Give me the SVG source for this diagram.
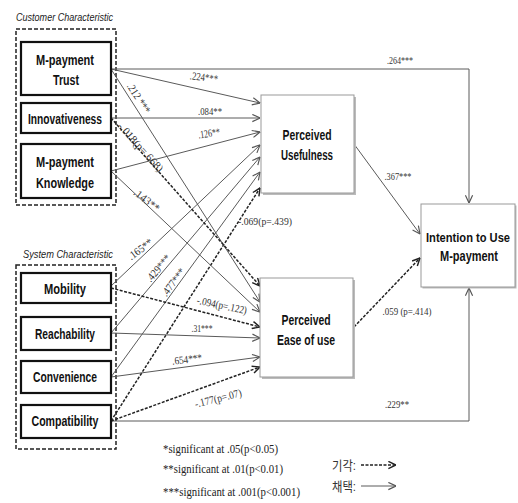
<svg xmlns="http://www.w3.org/2000/svg" width="518" height="503" viewBox="0 0 518 503">
<defs>
<marker id="arr" viewBox="0 0 10 10" refX="9.5" refY="5" markerWidth="9" markerHeight="9" markerUnits="userSpaceOnUse" orient="auto">
<path d="M1,1 L9.5,5 L1,9" fill="none" stroke="#555" stroke-width="1.3"/>
</marker>
<marker id="arrd" viewBox="0 0 10 10" refX="9.5" refY="5" markerWidth="9" markerHeight="9" markerUnits="userSpaceOnUse" orient="auto">
<path d="M1,1 L9.5,5 L1,9" fill="none" stroke="#222" stroke-width="1.6"/>
</marker>
</defs>
<style>
.grp{fill:none;stroke:#222;stroke-width:1.5;stroke-dasharray:4,2}
.cat{font-family:"Liberation Sans",Arial,sans-serif;font-style:italic;font-size:11px;fill:#222}
.box{fill:#fff;stroke:#111;stroke-width:2.2}
.cbox{fill:#fff;stroke:#999;stroke-width:1}
.shadow{fill:#bbb}
.nt{font-family:"Liberation Sans",Arial,sans-serif;font-weight:bold;font-size:14px;fill:#111;text-anchor:middle}
.s{fill:none;stroke:#5a5a5a;stroke-width:1;marker-end:url(#arr)}
.d{fill:none;stroke:#222;stroke-width:1.5;stroke-dasharray:3,1.5;marker-end:url(#arrd)}
.lb{font-family:"Liberation Serif","Times New Roman",serif;font-size:11px;fill:#333;text-anchor:middle}
.lg{font-family:"Liberation Serif","Times New Roman",serif;font-size:12px;fill:#222}
.kr{font-family:"Liberation Sans","Noto Sans CJK KR",sans-serif;font-size:13px;fill:#333}
</style>

<text class="cat" x="16" y="21" textLength="97" lengthAdjust="spacingAndGlyphs">Customer Characteristic</text>
<rect class="grp" x="16" y="29" width="100" height="176"/>
<text class="cat" x="23" y="258" textLength="90" lengthAdjust="spacingAndGlyphs">System Characteristic</text>
<rect class="grp" x="16" y="265" width="100" height="184"/>

<g id="connectors">
<path class="s" d="M111,69 H469 V203"/>
<path class="s" d="M111,421 H469 V288"/>
<path class="s" d="M111,69 L260,103"/>
<path class="s" d="M111,118 L260,118"/>
<path class="s" d="M111,171 L260,132"/>
<path class="s" d="M111,286 L260,145"/>
<path class="s" d="M111,333 L260,157"/>
<path class="s" d="M111,377 L260,172"/>
<path class="d" d="M111,421 L260,188"/>
<path class="s" d="M111,69 L260,302"/>
<path class="d" d="M111,118 L260,286"/>
<path class="s" d="M111,171 L260,312"/>
<path class="d" d="M111,288 L260,327"/>
<path class="s" d="M111,333 L260,338"/>
<path class="s" d="M111,377 L260,357"/>
<path class="d" d="M111,421 L260,367"/>
<path class="s" d="M354,144 L420,234"/>
<path class="d" d="M354,327 L420,258"/>
<path class="d" d="M361,465 L396,465"/>
<path class="s" d="M361,486 L396,486"/>
</g>

<g id="labels">
<text class="lb" x="400" y="64" textLength="26" lengthAdjust="spacingAndGlyphs">.264***</text>
<text class="lb" x="204" y="81" textLength="28" lengthAdjust="spacingAndGlyphs" transform="rotate(7 204 77)">.224***</text>
<text class="lb" x="210" y="115" textLength="24" lengthAdjust="spacingAndGlyphs">.084**</text>
<text class="lb" x="209" y="137" textLength="22" lengthAdjust="spacingAndGlyphs" transform="rotate(-8 209 133)">.126**</text>
<text class="lb" x="139" y="102" textLength="34" lengthAdjust="spacingAndGlyphs" transform="rotate(57 139 98)">.212 ***</text>
<text class="lb" x="141" y="151" textLength="62" lengthAdjust="spacingAndGlyphs" transform="rotate(48 141 147)">-.018(p=.668)</text>
<text class="lb" x="147" y="204" textLength="30" lengthAdjust="spacingAndGlyphs" transform="rotate(38 147 200)">.143**</text>
<text class="lb" x="140" y="253" textLength="28" lengthAdjust="spacingAndGlyphs" transform="rotate(-37 140 249)">.165**</text>
<text class="lb" x="158" y="272" textLength="32" lengthAdjust="spacingAndGlyphs" transform="rotate(-50 158 268)">.429***</text>
<text class="lb" x="173" y="286" textLength="32" lengthAdjust="spacingAndGlyphs" transform="rotate(-53 173 282)">.477***</text>
<text class="lb" x="222" y="309" textLength="51" lengthAdjust="spacingAndGlyphs" transform="rotate(12 222 305)">-.094(p=.122)</text>
<text class="lb" x="202" y="332" textLength="21" lengthAdjust="spacingAndGlyphs">.31***</text>
<text class="lb" x="187" y="363" textLength="30" lengthAdjust="spacingAndGlyphs" transform="rotate(-7 187 359)">.654***</text>
<text class="lb" x="218" y="402" textLength="48" lengthAdjust="spacingAndGlyphs" transform="rotate(-14 218 398)">-.177(p=.07)</text>
<text class="lb" x="265" y="225" textLength="54" lengthAdjust="spacingAndGlyphs">-.069(p=.439)</text>
<text class="lb" x="398" y="180" textLength="27" lengthAdjust="spacingAndGlyphs">.367***</text>
<text class="lb" x="407" y="315" textLength="49" lengthAdjust="spacingAndGlyphs">.059 (p=.414)</text>
<text class="lb" x="397" y="408" textLength="24" lengthAdjust="spacingAndGlyphs">.229**</text>
</g>

<g id="trust"><rect class="box" x="21" y="42" width="90" height="53"/><text class="nt" x="65" y="65" textLength="58" lengthAdjust="spacingAndGlyphs">M-payment</text><text class="nt" x="66" y="85" textLength="26" lengthAdjust="spacingAndGlyphs">Trust</text></g>
<g id="innov"><rect class="box" x="21" y="103" width="90" height="30"/><text class="nt" x="65" y="124" textLength="74" lengthAdjust="spacingAndGlyphs">Innovativeness</text></g>
<g id="know"><rect class="box" x="21" y="144" width="90" height="54"/><text class="nt" x="65" y="167" textLength="58" lengthAdjust="spacingAndGlyphs">M-payment</text><text class="nt" x="65" y="188" textLength="58" lengthAdjust="spacingAndGlyphs">Knowledge</text></g>
<g id="mob"><rect class="box" x="21" y="273" width="90" height="30"/><text class="nt" x="65" y="294" textLength="42" lengthAdjust="spacingAndGlyphs">Mobility</text></g>
<g id="reach"><rect class="box" x="21" y="317" width="90" height="33"/><text class="nt" x="65" y="339" textLength="60" lengthAdjust="spacingAndGlyphs">Reachability</text></g>
<g id="conv"><rect class="box" x="21" y="361" width="90" height="32"/><text class="nt" x="65" y="382" textLength="64" lengthAdjust="spacingAndGlyphs">Convenience</text></g>
<g id="compat"><rect class="box" x="21" y="405" width="90" height="33"/><text class="nt" x="65" y="426" textLength="67" lengthAdjust="spacingAndGlyphs">Compatibility</text></g>

<g id="pu"><rect class="shadow" x="263" y="97" width="93" height="98"/><rect class="cbox" x="261" y="95" width="93" height="98"/><text class="nt" x="307" y="140" textLength="49" lengthAdjust="spacingAndGlyphs">Perceived</text><text class="nt" x="307" y="160" textLength="52" lengthAdjust="spacingAndGlyphs">Usefulness</text></g>
<g id="peou"><rect class="shadow" x="262" y="280" width="93" height="99"/><rect class="cbox" x="260" y="278" width="93" height="99"/><text class="nt" x="306" y="325" textLength="49" lengthAdjust="spacingAndGlyphs">Perceived</text><text class="nt" x="306" y="345" textLength="58" lengthAdjust="spacingAndGlyphs">Ease of use</text></g>
<g id="intent"><rect class="shadow" x="422.5" y="205.5" width="94" height="83"/><rect class="cbox" x="421" y="204" width="94" height="83"/><text class="nt" x="468" y="242" style="font-size:12px" textLength="84" lengthAdjust="spacingAndGlyphs">Intention to Use</text><text class="nt" x="469" y="261" textLength="58" lengthAdjust="spacingAndGlyphs">M-payment</text></g>

<g id="legend">
<text class="lg" x="163" y="453" textLength="115" lengthAdjust="spacingAndGlyphs">*significant at .05(p&lt;0.05)</text>
<text class="lg" x="163" y="473" textLength="120" lengthAdjust="spacingAndGlyphs">**significant at .01(p&lt;0.01)</text>
<text class="lg" x="163" y="496" textLength="137" lengthAdjust="spacingAndGlyphs">***significant at .001(p&lt;0.001)</text>
<text class="kr" x="332" y="470" textLength="24" lengthAdjust="spacingAndGlyphs">기각:</text>
<text class="kr" x="332" y="491" textLength="24" lengthAdjust="spacingAndGlyphs">채택:</text>
</g>
</svg>
